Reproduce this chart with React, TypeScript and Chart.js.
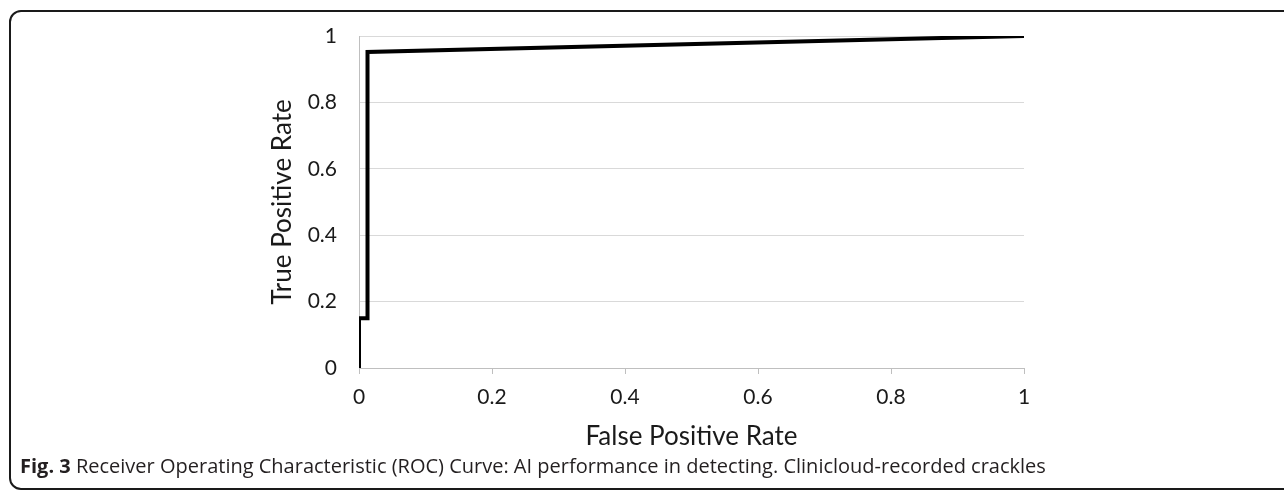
import React, { useEffect, useRef } from "react";
import { Chart, registerables } from "chart.js";

Chart.register(...registerables);

const fprValues = [0, 0, 0.0128, 0.0128, 1];
const tprValues = [0, 0.15, 0.15, 0.952, 1];
const xTickValues = [0, 0.2, 0.4, 0.6, 0.8, 1];
const yTickValues = [0, 0.2, 0.4, 0.6, 0.8, 1];
const xTitle = "False Positive Rate";
const yTitle = "True Positive Rate";

export default function App() {
  const ref = useRef<HTMLCanvasElement | null>(null);

  useEffect(() => {
    if (!ref.current) return;
    const points = fprValues.map((x, i) => ({ x, y: tprValues[i] }));
    const chart = new Chart(ref.current, {
      type: "scatter",
      data: {
        datasets: [
          {
            data: points,
            showLine: true,
            borderColor: "#000000",
            borderWidth: 4,
            pointRadius: 0,
            tension: 0,
            borderJoinStyle: "miter",
          },
        ],
      },
      options: {
        animation: false,
        responsive: false,
        maintainAspectRatio: false,
        layout: { padding: { left: 257, right: 260, top: 36, bottom: 8 } },
        plugins: {
          legend: { display: false },
          tooltip: { enabled: false },
        },
        scales: {
          x: {
            type: "linear",
            min: 0,
            max: 1,
            afterBuildTicks: (s: any) => {
              s.ticks = xTickValues.map((v) => ({ value: v }));
            },
            afterFit: (s: any) => {
              s.height = 84;
            },
            ticks: {
              color: "#1a1a1a",
              font: { family: "Lato", size: 21 },
              padding: 11,
              maxRotation: 0,
              callback: (v: any) => String(Math.round(Number(v) * 10) / 10),
            },
            grid: {
              display: true,
              drawOnChartArea: false,
              drawTicks: true,
              tickLength: 6,
              color: "#bfbfbf",
            },
            border: { display: true, color: "#bfbfbf", width: 1 },
            title: {
              display: true,
              text: xTitle,
              color: "#1a1a1a",
              font: { family: "Lato", size: 26 },
              padding: { top: 0, bottom: 0 },
            },
          },
          y: {
            type: "linear",
            min: 0,
            max: 1,
            afterBuildTicks: (s: any) => {
              s.ticks = yTickValues.map((v) => ({ value: v }));
            },
            afterFit: (s: any) => {
              s.width = 102;
            },
            ticks: {
              color: "#1a1a1a",
              font: { family: "Lato", size: 21 },
              padding: 22,
              callback: (v: any) => String(Math.round(Number(v) * 10) / 10),
            },
            grid: {
              color: "#d9d9d9",
              drawTicks: false,
              lineWidth: 1,
            },
            border: { display: true, color: "#bfbfbf", width: 1 },
            title: {
              display: true,
              text: yTitle,
              color: "#1a1a1a",
              font: { family: "Lato", size: 26 },
              padding: { top: 10, bottom: 0 },
            },
          },
        },
      },
    });
    return () => chart.destroy();
  }, []);

  return (
    <>
      <div
        style={{
          position: "absolute",
          left: 9,
          top: 10,
          width: 1300,
          height: 480,
          boxSizing: "border-box",
          border: "2px solid #1a1a1a",
          borderRadius: 12,
        }}
      />
      <canvas
        ref={ref}
        width={1284}
        height={460}
        style={{ position: "absolute", left: 0, top: 0, width: 1284, height: 460 }}
      />
      <div
        style={{
          position: "absolute",
          left: 20,
          top: 453,
          fontFamily: "'Open Sans'",
          fontSize: 20,
          color: "#231f20",
          whiteSpace: "nowrap",
          lineHeight: "26px",
        }}
      >
        <b>Fig. 3</b> Receiver Operating Characteristic (ROC) Curve: AI performance in detecting. Clinicloud-recorded crackles
      </div>
    </>
  );
}
